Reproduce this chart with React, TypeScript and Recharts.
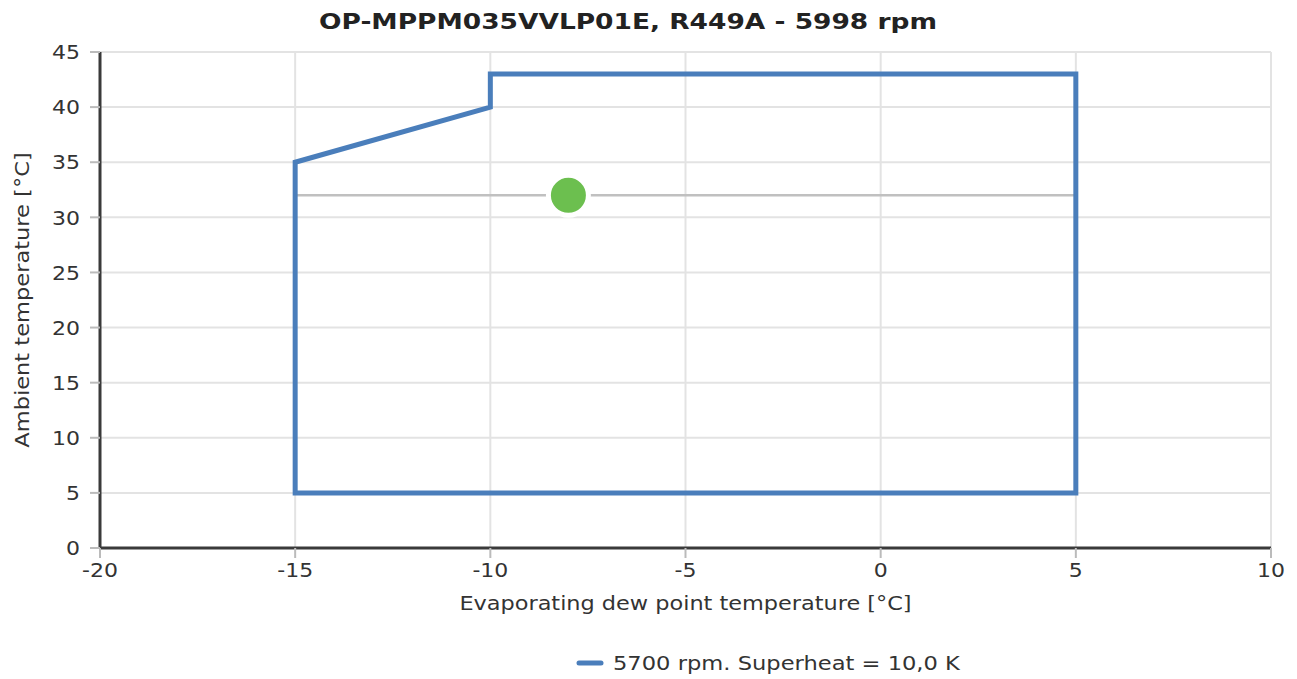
import React from 'react';
import { ComposedChart, Line, Scatter, XAxis, YAxis, CartesianGrid, Legend, Label } from 'recharts';

// operating envelope, 5700 rpm
const envelopeX = [-15, -15, -10, -10, 5, 5, -15];
const envelopeY = [5, 35, 40, 43, 43, 5, 5];

// ambient line through the operating point
const ambientX = [-15, 5];
const ambientY = [32, 32];

// operating point
const pointX = [-8];
const pointY = [32];

const xTicks = [-20, -15, -10, -5, 0, 5, 10];
const yTicks = [0, 5, 10, 15, 20, 25, 30, 35, 40, 45];

const envelope = envelopeX.map((x, i) => ({ x, y: envelopeY[i] }));
const ambient = ambientX.map((x, i) => ({ x, y: ambientY[i] }));
const point = pointX.map((x, i) => ({ x, y: pointY[i] }));

const FONT = '"DejaVu Sans", Verdana, sans-serif';
const BLUE = '#4a7ebb';
const SX = 1.12;

const YTick = ({ x, y, payload }: any) => (
  <text transform={`translate(${x},${y}) scale(1.1,1)`} textAnchor="end" dy="0.36em" fontSize={20} fontFamily={FONT} fill="#333">
    {payload.value}
  </text>
);

const XTick = ({ x, y, payload }: any) => (
  <text transform={`translate(${x},${y}) scale(1.1,1)`} textAnchor="middle" dy="0.72em" fontSize={20} fontFamily={FONT} fill="#333">
    {payload.value}
  </text>
);

const XTitle = ({ viewBox }: any) => (
  <text
    transform={`translate(${viewBox.x + viewBox.width / 2},${viewBox.y + 62}) scale(${SX},1)`}
    textAnchor="middle" fontSize={20} fontFamily={FONT} fill="#333"
  >
    Evaporating dew point temperature [°C]
  </text>
);

const YTitle = ({ viewBox }: any) => (
  <text
    transform={`translate(${viewBox.x + 29},${viewBox.y + viewBox.height / 2}) rotate(-90) scale(1.127,1)`}
    textAnchor="middle" fontSize={20} fontFamily={FONT} fill="#333"
  >
    Ambient temperature [°C]
  </text>
);

const Dot = ({ cx, cy }: any) => (
  <circle cx={cx} cy={cy} r={20} fill="#6cbf4f" stroke="#fff" strokeWidth={5} />
);

const LegendContent = ({ payload }: any) => {
  const items = (payload || []).filter((p: any) => p.type !== 'none');
  return (
    <svg width={1297} height={40} style={{ display: 'block' }}>
      {items.map((item: any) => (
        <g key={item.value}>
          <line x1={579} x2={601} y1={24} y2={24} stroke={BLUE} strokeWidth={5} strokeLinecap="round" />
          <text transform={`translate(613,31) scale(1.13,1)`} fontSize={20} fontFamily={FONT} fill="#333">
            {item.value}
          </text>
        </g>
      ))}
    </svg>
  );
};

export default function App() {
  return (
    <div style={{ position: 'absolute', left: 0, top: 0, width: 1297, height: 679, background: '#fff' }}>
      <div
        style={{
          position: 'absolute', left: 0, top: 8, width: 1256, textAlign: 'center',
          fontFamily: FONT, fontWeight: 'bold', fontSize: 20.5, lineHeight: '28px', color: '#222',
          transform: 'scaleX(1.29)', transformOrigin: '628px 0',
        }}
      >
        OP-MPPM035VVLP01E, R449A - 5998 rpm
      </div>
      <ComposedChart width={1297} height={679} margin={{ top: 52, right: 26, left: 0, bottom: 0 }}>
        <CartesianGrid stroke="#e3e3e3" strokeWidth={2} />
        <XAxis
          type="number" dataKey="x" domain={[-20, 10]} ticks={xTicks} interval={0}
          height={91} axisLine={{ stroke: '#3a3a3a', strokeWidth: 3 }}
          tickLine={{ stroke: '#bbb', strokeWidth: 2 }} tickSize={10} tickMargin={5}
          tick={<XTick />}
        >
          <Label content={<XTitle />} />
        </XAxis>
        <YAxis
          type="number" dataKey="y" domain={[0, 45]} ticks={yTicks} interval={0}
          width={100} axisLine={{ stroke: '#3a3a3a', strokeWidth: 3 }}
          tickLine={{ stroke: '#bbb', strokeWidth: 2 }} tickSize={10} tickMargin={10}
          tick={<YTick />}
        >
          <Label content={<YTitle />} />
        </YAxis>
        <Legend verticalAlign="bottom" height={40} content={<LegendContent />} />
        <Line
          data={ambient} dataKey="y" type="linear" stroke="#c0c0c0" strokeWidth={2.5}
          dot={false} activeDot={false} legendType="none" isAnimationActive={false}
        />
        <Line
          data={envelope} dataKey="y" name="5700 rpm. Superheat = 10,0 K" type="linear"
          stroke={BLUE} strokeWidth={5} strokeLinejoin="miter" strokeLinecap="square"
          dot={false} activeDot={false} isAnimationActive={false}
        />
        <Scatter data={point} dataKey="y" shape={<Dot />} legendType="none" isAnimationActive={false} />
      </ComposedChart>
    </div>
  );
}
